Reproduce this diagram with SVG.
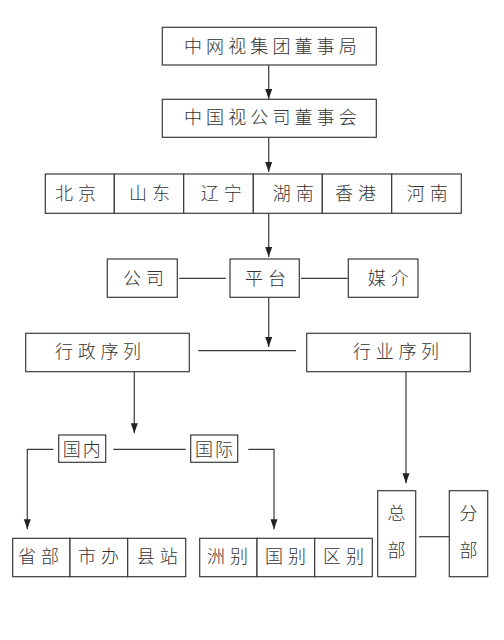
<svg xmlns="http://www.w3.org/2000/svg" width="504" height="640" viewBox="0 0 504 640">
<style>
.b{fill:#fff;stroke:#3a3a3a;stroke-width:1.2}
.t{font-family:"Noto Sans CJK SC","Noto Sans",sans-serif;font-size:18px;font-weight:300;fill:#333}
.c{fill:none;stroke:#3a3a3a;stroke-width:1.2}
</style>
<defs>
<marker id="ah" markerUnits="userSpaceOnUse" markerWidth="10" markerHeight="8" refX="10" refY="3.5" orient="auto">
<path d="M0,0 L10,3.5 L0,7 z" fill="#222"/>
</marker>
</defs>
<rect width="504" height="640" fill="#fff"/>
<g id="connectors">
<path class="c" d="M268.7,65 V99" marker-end="url(#ah)"/>
<path class="c" d="M268.7,137.3 V172" marker-end="url(#ah)"/>
<path class="c" d="M268.7,213.3 V257" marker-end="url(#ah)"/>
<path class="c" d="M179.3,278.3 H225.7"/>
<path class="c" d="M301,278.3 H347.7"/>
<path class="c" d="M268.7,297.3 V347" marker-end="url(#ah)"/>
<path class="c" d="M198.3,350.7 H296"/>
<path class="c" d="M134.3,371.7 V433.3" marker-end="url(#ah)"/>
<path class="c" d="M53.3,449.3 H27.3 V529.3" marker-end="url(#ah)"/>
<path class="c" d="M113.3,449.3 H185.7"/>
<path class="c" d="M248.3,449.3 H274 V529.3" marker-end="url(#ah)"/>
<path class="c" d="M406,371.7 V483.3" marker-end="url(#ah)"/>
<path class="c" d="M419,536.7 H449"/>
</g>
<g id="n1"><rect class="b" x="162.3" y="27.3" width="214" height="37.7"/><text class="t" x="184" y="52.5" letter-spacing="4.1">中网视集团董事局</text></g>
<g id="n2"><rect class="b" x="162.3" y="99.3" width="214" height="38"/><text class="t" x="184" y="123.5" letter-spacing="4.1">中国视公司董事会</text></g>
<g id="beijing"><rect class="b" x="45.3" y="174" width="69" height="39.3"/><text class="t" x="55" y="199.5" letter-spacing="5">北京</text></g>
<g id="shandong"><rect class="b" x="114.3" y="174" width="69.4" height="39.3"/><text class="t" x="129" y="199.5" letter-spacing="5">山东</text></g>
<g id="liaoning"><rect class="b" x="183.7" y="174" width="69.6" height="39.3"/><text class="t" x="200.7" y="199.5" letter-spacing="5">辽宁</text></g>
<g id="hunan"><rect class="b" x="253.3" y="174" width="69" height="39.3"/><text class="t" x="272.7" y="199.5" letter-spacing="5">湖南</text></g>
<g id="xianggang"><rect class="b" x="322.3" y="174" width="69.4" height="39.3"/><text class="t" x="335" y="199.5" letter-spacing="5">香港</text></g>
<g id="henan"><rect class="b" x="391.7" y="174" width="69.6" height="39.3"/><text class="t" x="406.7" y="199.5" letter-spacing="5">河南</text></g>
<g id="gongsi"><rect class="b" x="107.3" y="259" width="70" height="38.3"/><text class="t" x="123" y="284.5" letter-spacing="5">公司</text></g>
<g id="pingtai"><rect class="b" x="230" y="259" width="69.3" height="38.3"/><text class="t" x="245" y="284.5" letter-spacing="5">平台</text></g>
<g id="meijie"><rect class="b" x="348.3" y="259" width="69.7" height="38.3"/><text class="t" x="367.7" y="284.5" letter-spacing="5">媒介</text></g>
<g id="xingzheng"><rect class="b" x="25.7" y="333.3" width="163.6" height="38.4"/><text class="t" x="55" y="358" letter-spacing="4.7">行政序列</text></g>
<g id="hangye"><rect class="b" x="306.7" y="333.3" width="163.6" height="38.4"/><text class="t" x="353" y="358" letter-spacing="4.7">行业序列</text></g>
<g id="guonei"><rect class="b" x="58.7" y="435" width="47" height="27.3"/><text class="t" x="62.7" y="455.5" letter-spacing="2">国内</text></g>
<g id="guoji"><rect class="b" x="190.7" y="435" width="47" height="27.3"/><text class="t" x="195" y="455.5" letter-spacing="2">国际</text></g>
<g id="shengbu"><rect class="b" x="12.7" y="538.3" width="57.3" height="38.4"/><text class="t" x="18" y="563" letter-spacing="5">省部</text></g>
<g id="shiban"><rect class="b" x="70" y="538.3" width="57.7" height="38.4"/><text class="t" x="78" y="563" letter-spacing="5">市办</text></g>
<g id="xianzhan"><rect class="b" x="127.7" y="538.3" width="58" height="38.4"/><text class="t" x="136.7" y="563" letter-spacing="5">县站</text></g>
<g id="zhoubie"><rect class="b" x="199.7" y="538.3" width="57.3" height="38.4"/><text class="t" x="207" y="563" letter-spacing="5">洲别</text></g>
<g id="guobie"><rect class="b" x="257" y="538.3" width="57.7" height="38.4"/><text class="t" x="265" y="563" letter-spacing="5">国别</text></g>
<g id="qubie"><rect class="b" x="314.7" y="538.3" width="57.6" height="38.4"/><text class="t" x="323" y="563" letter-spacing="5">区别</text></g>
<g id="zongbu"><rect class="b" x="377.7" y="490.7" width="38" height="86"/><text class="t" x="387.5" y="520">总</text><text class="t" x="387.5" y="556.5">部</text></g>
<g id="fenbu"><rect class="b" x="449.3" y="490.7" width="38.4" height="86"/><text class="t" x="459.5" y="520">分</text><text class="t" x="459.5" y="556.5">部</text></g>
</svg>
